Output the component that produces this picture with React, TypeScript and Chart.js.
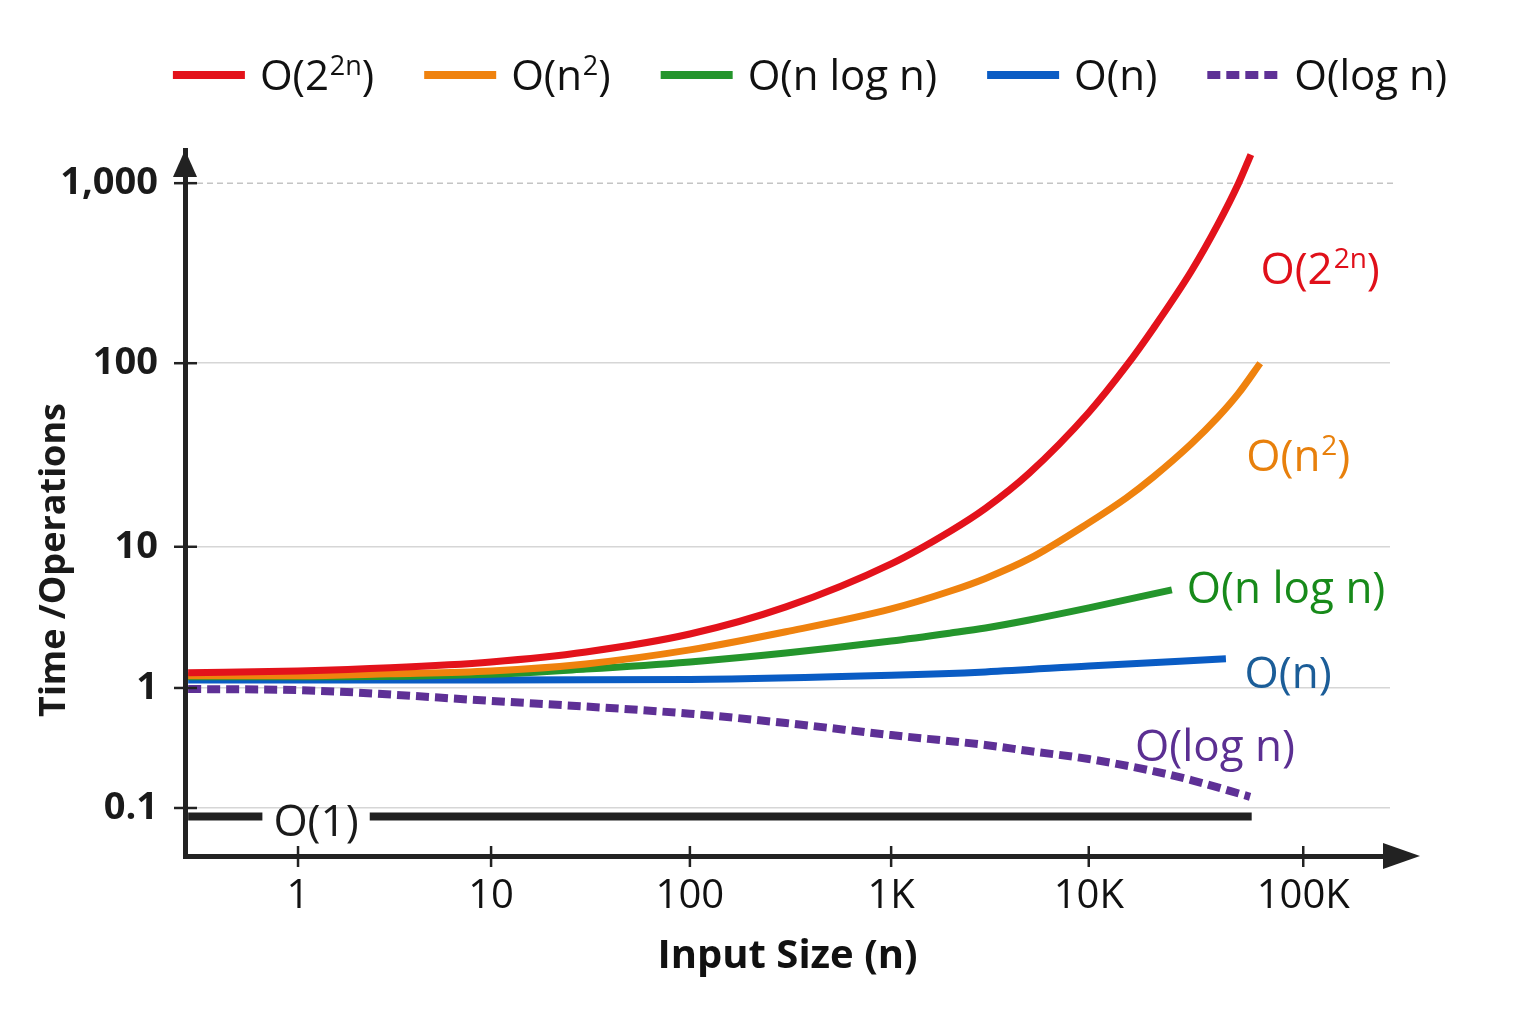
import { useEffect, useRef } from 'react';
import { Chart, registerables, LogarithmicScale } from 'chart.js';

Chart.register(...registerables);

// ---- Growth curves: input size n and operations for each complexity class ----
const SERIES_LABELS = ['O(2²ⁿ)', 'O(n²)', 'O(n log n)', 'O(n)', 'O(log n)', 'O(1)'];

const N_EXP = [0.27, 1, 3, 10, 30, 100, 300, 1000, 2000, 3000, 5000, 10000, 15000, 20000, 30000, 40000, 50000, 57000];
const V_EXP = [1.28, 1.32, 1.39, 1.53, 1.8, 2.41, 3.75, 7.57, 12.2, 16.2, 25.2, 53.9, 96.9, 156, 323, 590, 1002, 1438];

const N_QUAD = [0.27, 1, 3, 10, 30, 100, 300, 1000, 2000, 3000, 5000, 10000, 15000, 20000, 30000, 40000, 50000, 63000];
const V_QUAD = [1.22, 1.22, 1.26, 1.32, 1.48, 1.86, 2.5, 3.63, 4.86, 5.97, 8.23, 13.5, 18.5, 24.0, 36.3, 50.8, 68.7, 100];

const N_NLOGN = [0.27, 1, 10, 30, 100, 300, 1000, 2000, 3000, 5000, 10000, 24400];
const V_NLOGN = [1.2, 1.2, 1.25, 1.36, 1.53, 1.77, 2.15, 2.45, 2.66, 3.03, 3.69, 4.95];

const N_LIN = [0.27, 1, 10, 100, 1000, 3000, 10000, 43600];
const V_LIN = [1.14, 1.14, 1.14, 1.15, 1.23, 1.3, 1.43, 1.61];

const N_LOG = [0.27, 1, 10, 100, 300, 1000, 3000, 5000, 10000, 20000, 30000, 56500];
const V_LOG = [0.98, 0.96, 0.78, 0.61, 0.51, 0.405, 0.335, 0.298, 0.256, 0.203, 0.171, 0.124];

const N_CONST = [0.27, 57500];
const V_CONST = [0.085, 0.085];

const SERIES_N = [N_EXP, N_QUAD, N_NLOGN, N_LIN, N_LOG, N_CONST];
const SERIES_V = [V_EXP, V_QUAD, V_NLOGN, V_LIN, V_LOG, V_CONST];
const LINE_COLORS = ['#e3121b', '#ef820e', '#24952c', '#0a5cc4', '#5e3096', '#222222'];
const LABEL_COLORS = ['#e0101a', '#e8800c', '#178a1a', '#1b5d98', '#5b2f92', '#1a1a1a'];

// In-plot curve names, anchored in data units (n, operations)
const CURVE_LABEL_N = [120000, 94800, 83200, 85000, 38800, 1.24];
const CURVE_LABEL_V = [337, 31.6, 5.2, 1.3, 0.335, 0.079];

// ---- Axes ----
const X_TICK_VALUES = [1, 10, 100, 1000, 10000, 100000];
const X_TICK_LABELS = ['1', '10', '100', '1K', '10K', '100K'];
const Y_TICK_VALUES = [0.1, 1, 10, 100, 1000];
const Y_TICK_LABELS = ['0.1', '1', '10', '100', '1,000'];
const DASHED_GRID_VALUE = 1000;

// Decade -> fraction of axis length (the axes use hand-tuned decade spacing)
const X_DECADES = [-0.585, 0, 1, 2, 3, 4, 5, 5.407];
const X_FRACTIONS = [0, 0.0938, 0.254, 0.419, 0.586, 0.75, 0.928, 1];
const Y_DECADES = [-1.4, -1, 0, 1, 2, 3, 3.183];
const Y_FRACTIONS = [0, 0.068, 0.238, 0.438, 0.698, 0.953, 1];

const FONT = '"Open Sans", "DejaVu Sans", sans-serif';
const SUPERSCRIPTS: Record<string, string> = { '²': '2', 'ⁿ': 'n' };

function piecewise(v: number, from: number[], to: number[]): number {
  let i = 1;
  while (i < from.length - 1 && v > from[i]) i++;
  const t = (v - from[i - 1]) / (from[i] - from[i - 1]);
  return to[i - 1] + t * (to[i] - to[i - 1]);
}

// Split a label into normal and raised (superscript) runs
function runs(text: string): { t: string; sup: boolean }[] {
  const out: { t: string; sup: boolean }[] = [];
  for (const ch of text) {
    const sup = ch in SUPERSCRIPTS;
    const c = sup ? SUPERSCRIPTS[ch] : ch;
    const last = out[out.length - 1];
    if (last && last.sup === sup) last.t += c;
    else out.push({ t: c, sup });
  }
  return out;
}

function richWidth(ctx: CanvasRenderingContext2D, text: string, size: number): number {
  let w = 0;
  for (const r of runs(text)) {
    ctx.font = `${r.sup ? Math.round(size * 0.64) : size}px ${FONT}`;
    w += ctx.measureText(r.t).width + (r.sup ? size * 0.02 : 0);
  }
  return w;
}

// Draw text starting at x with its capital letters centred on yMid
function drawRich(ctx: CanvasRenderingContext2D, text: string, x: number, yMid: number, size: number) {
  const baseline = yMid + size * 0.36;
  ctx.textAlign = 'left';
  ctx.textBaseline = 'alphabetic';
  let cx = x;
  for (const r of runs(text)) {
    const s = r.sup ? Math.round(size * 0.64) : size;
    ctx.font = `${s}px ${FONT}`;
    ctx.fillText(r.t, cx + (r.sup ? size * 0.02 : 0), r.sup ? baseline - size * 0.36 : baseline);
    cx += ctx.measureText(r.t).width + (r.sup ? size * 0.02 : 0);
  }
}

// Logarithmic scale whose decades are laid out by the stop tables above
class SegmentedLogScale extends LogarithmicScale {
  static id = 'segmentedLog';
  static defaults = LogarithmicScale.defaults;

  stops(): [number[], number[]] {
    return (this as any).axis === 'x' ? [X_DECADES, X_FRACTIONS] : [Y_DECADES, Y_FRACTIONS];
  }

  getPixelForValue(value: number): number {
    if (value === null || value === undefined || isNaN(value) || value <= 0) return NaN;
    const [d, f] = this.stops();
    return this.getPixelForDecimal(piecewise(Math.log10(value), d, f));
  }

  getValueForPixel(pixel: number): number {
    const [d, f] = this.stops();
    return Math.pow(10, piecewise(this.getDecimalForPixel(pixel), f, d));
  }
}
Chart.register(SegmentedLogScale as any);

const decorPlugin = {
  id: 'complexityDecor',
  beforeDatasetsDraw(chart: any) {
    const { ctx, chartArea, scales } = chart;
    const y = scales.y.getPixelForValue(DASHED_GRID_VALUE);
    ctx.save();
    ctx.strokeStyle = '#c4c4c4';
    ctx.lineWidth = 1.5;
    ctx.setLineDash([6, 4]);
    ctx.beginPath();
    ctx.moveTo(chartArea.left + 12, y);
    ctx.lineTo(chartArea.right + 6, y);
    ctx.stroke();
    ctx.restore();
  },
  afterDatasetsDraw(chart: any) {
    const { ctx, scales } = chart;
    const size = 44;
    ctx.save();
    SERIES_LABELS.forEach((text, i) => {
      const x = scales.x.getPixelForValue(CURVE_LABEL_N[i]);
      const y = scales.y.getPixelForValue(CURVE_LABEL_V[i]);
      const w = richWidth(ctx, text, size);
      if (i === SERIES_LABELS.length - 1) {
        // clear a gap in the constant line behind its label
        const lineY = scales.y.getPixelForValue(V_CONST[0]);
        ctx.fillStyle = '#ffffff';
        ctx.fillRect(x - w / 2 - 11, lineY - 7, w + 22, 14);
      }
      ctx.fillStyle = LABEL_COLORS[i];
      drawRich(ctx, text, x - w / 2, y, size);
    });
    ctx.restore();
  },
  afterDraw(chart: any) {
    const { ctx, chartArea, scales } = chart;
    const axisColor = '#222222';
    ctx.save();

    // tick marks crossing the axes
    ctx.strokeStyle = axisColor;
    ctx.lineWidth = 2.5;
    Y_TICK_VALUES.forEach((v) => {
      const y = scales.y.getPixelForValue(v);
      ctx.beginPath();
      ctx.moveTo(chartArea.left - 11, y);
      ctx.lineTo(chartArea.left + 12, y);
      ctx.stroke();
    });
    X_TICK_VALUES.forEach((v) => {
      const x = scales.x.getPixelForValue(v);
      ctx.beginPath();
      ctx.moveTo(x, chartArea.bottom - 10);
      ctx.lineTo(x, chartArea.bottom + 11);
      ctx.stroke();
    });

    // x-axis extension and arrow heads
    ctx.fillStyle = axisColor;
    ctx.lineWidth = 5;
    ctx.beginPath();
    ctx.moveTo(chartArea.right, chartArea.bottom);
    ctx.lineTo(chartArea.right + 2, chartArea.bottom);
    ctx.stroke();
    ctx.beginPath();
    ctx.moveTo(chartArea.right - 7, chartArea.bottom - 13);
    ctx.lineTo(chartArea.right + 30, chartArea.bottom);
    ctx.lineTo(chartArea.right - 7, chartArea.bottom + 13);
    ctx.closePath();
    ctx.fill();
    ctx.beginPath();
    ctx.moveTo(chartArea.left - 12, chartArea.top + 27);
    ctx.lineTo(chartArea.left, chartArea.top);
    ctx.lineTo(chartArea.left + 12, chartArea.top + 27);
    ctx.closePath();
    ctx.fill();

    // y-axis title
    ctx.save();
    ctx.translate(55, 560);
    ctx.rotate(-Math.PI / 2);
    ctx.font = `bold 36px ${FONT}`;
    ctx.fillStyle = '#1a1a1a';
    ctx.textAlign = 'center';
    ctx.textBaseline = 'middle';
    ctx.fillText('Time /Operations', 0, 0);
    ctx.restore();

    // legend row
    const lineLen = 72;
    const gap = 15;
    const spacing = 50;
    const legendY = 75;
    const centerX = 810;
    const size = 42;
    const items = chart.data.datasets.filter((d: any) => d.label !== SERIES_LABELS[SERIES_LABELS.length - 1]);
    const widths = items.map((d: any) => lineLen + gap + richWidth(ctx, d.label, size));
    const total = widths.reduce((a: number, b: number) => a + b, 0) + spacing * (items.length - 1);
    let x = centerX - total / 2;
    items.forEach((d: any, i: number) => {
      ctx.strokeStyle = d.borderColor;
      ctx.lineWidth = 8;
      ctx.setLineDash(d.borderDash || []);
      ctx.beginPath();
      ctx.moveTo(x, legendY);
      ctx.lineTo(x + lineLen, legendY);
      ctx.stroke();
      ctx.setLineDash([]);
      ctx.fillStyle = '#111111';
      drawRich(ctx, d.label, x + lineLen + gap, legendY, size);
      x += widths[i] + spacing;
    });

    ctx.restore();
  },
};

export default function App() {
  const canvasRef = useRef<HTMLCanvasElement | null>(null);

  useEffect(() => {
    if (!canvasRef.current) return;
    Chart.defaults.font.family = FONT;

    const datasets = SERIES_LABELS.map((label, i) => ({
      label,
      data: SERIES_N[i].map((n, j) => ({ x: n, y: SERIES_V[i][j] })),
      borderColor: LINE_COLORS[i],
      backgroundColor: LINE_COLORS[i],
      borderWidth: i >= 4 ? 8 : 7,
      borderDash: i === 4 ? [13, 6] : [],
      borderCapStyle: 'butt',
      pointRadius: 0,
      fill: false,
      cubicInterpolationMode: 'monotone',
    }));

    const chart = new Chart(canvasRef.current, {
      type: 'line',
      data: { datasets } as any,
      options: {
        animation: false,
        responsive: false,
        events: [],
        layout: { padding: { top: 150, right: 146, bottom: 0, left: 0 } },
        plugins: { legend: { display: false }, tooltip: { enabled: false } },
        scales: {
          x: {
            type: 'segmentedLog' as any,
            position: 'bottom',
            bounds: 'data',
            min: 0.26,
            max: 255000,
            afterBuildTicks: (s: any) => {
              s.ticks = X_TICK_VALUES.map((v) => ({ value: v }));
            },
            afterFit: (s: any) => {
              s.height = 168;
            },
            ticks: {
              autoSkip: false,
              maxRotation: 0,
              padding: 7,
              color: '#111111',
              font: { size: 40 },
              callback: (_v: any, i: number) => X_TICK_LABELS[i],
            },
            grid: { drawOnChartArea: false, tickLength: 10, tickColor: 'rgba(0,0,0,0)' },
            border: { color: '#222222', width: 5 },
            title: {
              display: true,
              text: 'Input Size (n)',
              color: '#111111',
              font: { size: 40, weight: 'bold' },
              padding: { top: 0, bottom: 43 },
            },
          } as any,
          y: {
            type: 'segmentedLog' as any,
            position: 'left',
            bounds: 'data',
            min: 0.0398,
            max: 1524,
            afterBuildTicks: (s: any) => {
              s.ticks = Y_TICK_VALUES.map((v) => ({ value: v }));
            },
            afterFit: (s: any) => {
              s.width = 185;
            },
            ticks: {
              autoSkip: false,
              padding: 17,
              color: '#1a1a1a',
              font: { size: 38, weight: 'bold' },
              callback: (_v: any, i: number) => Y_TICK_LABELS[i],
            },
            grid: {
              color: (c: any) => (c.tick && c.tick.value === DASHED_GRID_VALUE ? 'rgba(0,0,0,0)' : '#d6d6d6'),
              lineWidth: 1.5,
              tickLength: 10,
              tickColor: 'rgba(0,0,0,0)',
            },
            border: { color: '#222222', width: 5 },
          } as any,
        },
      },
      plugins: [decorPlugin],
    });

    return () => chart.destroy();
  }, []);

  return (
    <div style={{ position: 'absolute', left: 0, top: 0, width: 1536, height: 1024, background: '#ffffff' }}>
      <canvas ref={canvasRef} width={1536} height={1024} />
    </div>
  );
}
